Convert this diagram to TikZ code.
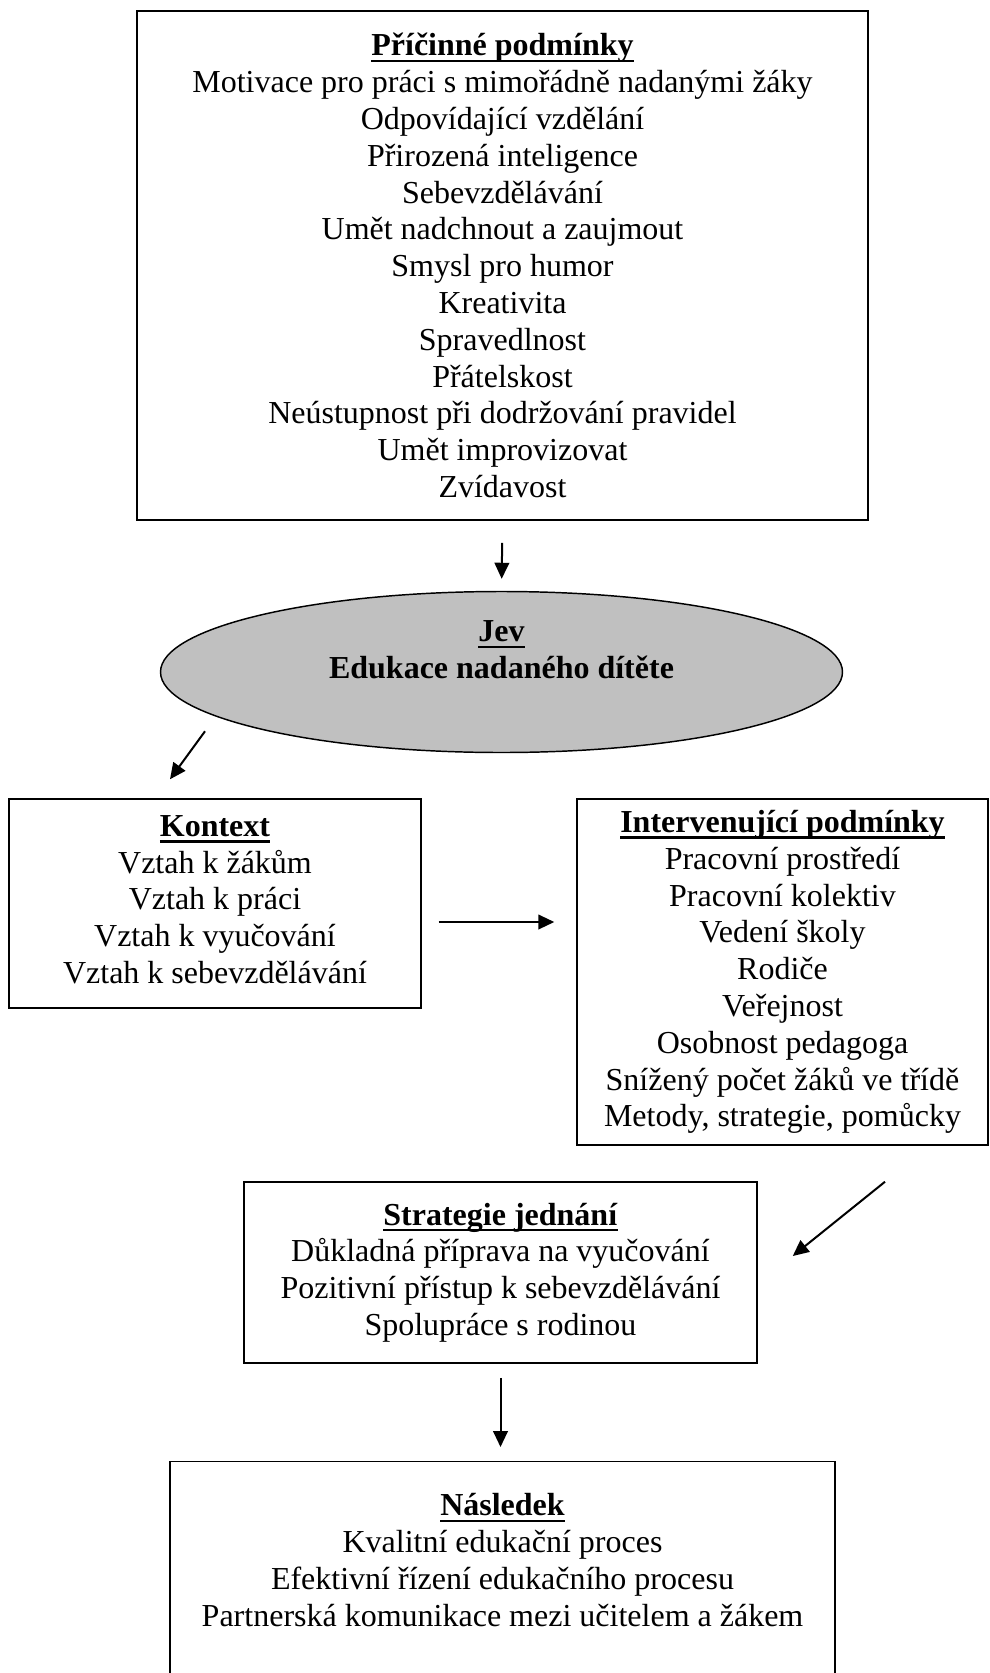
\documentclass[tikz,border=0pt]{standalone}
\usepackage{fontspec}
\setmainfont{Liberation Serif}
\usepackage{tikz}
\usetikzlibrary{arrows.meta,positioning,shapes.geometric,calc}
\definecolor{jevgray}{RGB}{192,192,192}
% bold heading with a heavy underline
\newcommand{\hd}[1]{\setbox0\hbox{\textbf{#1}}\leavevmode\rlap{\rule[-4.8pt]{\wd0}{1.8pt}}\box0}

\begin{document}
\begin{tikzpicture}[x=0.75pt, y=-0.75pt,
  every node/.style={font=\fontsize{24}{27.6}\selectfont},
  box/.style={draw, line width=1.1pt, align=center, inner sep=0pt},
  arr/.style={-{Triangle[length=12pt,width=11pt]}, line width=1.5pt}]
  \useasboundingbox (0,0) rectangle (989,1673);
  % ---- top: causes ----
  \node[box, minimum width=548pt, minimum height=382pt] (pric) at (502.5,265.5)
    {\hd{Příčinné podmínky}\\
     Motivace pro práci s mimořádně nadanými žáky\\
     Odpovídající vzdělání\\
     Přirozená inteligence\\
     Sebevzdělávání\\
     Umět nadchnout a zaujmout\\
     Smysl pro humor\\
     Kreativita\\
     Spravedlnost\\
     Přátelskost\\
     Neústupnost při dodržování pravidel\\
     Umět improvizovat\\
     Zvídavost};
  % ---- phenomenon (ellipse) ----
  \node[ellipse, draw, line width=1.1pt, fill=jevgray, inner sep=0pt, align=center,
        minimum width=511.5pt, minimum height=120.75pt] (jev) at (501.5,672)
    {\hd{Jev}\\\textbf{Edukace nadaného dítěte}\\[6pt]\mbox{}};
  % ---- context and intervening conditions ----
  \node[box, minimum width=309pt, minimum height=156.75pt] (kontext) at (215,903.5)
    {\hd{Kontext}\\
     Vztah k žákům\\
     Vztah k práci\\
     Vztah k vyučování\\
     Vztah k sebevzdělávání\\[-21.5pt]\mbox{}};
  \node[box, minimum width=308.25pt, minimum height=259.5pt] (interv) at (782.5,972)
    {\hd{Intervenující podmínky}\\
     Pracovní prostředí\\
     Pracovní kolektiv\\
     Vedení školy\\
     Rodiče\\
     Veřejnost\\
     Osobnost pedagoga\\
     Snížený počet žáků ve třídě\\
     Metody, strategie, pomůcky};
  % ---- strategies ----
  \node[box, minimum width=384.75pt, minimum height=135.75pt] (strat) at (500.5,1272.5)
    {\hd{Strategie jednání}\\
     Důkladná příprava na vyučování\\
     Pozitivní přístup k sebevzdělávání\\
     Spolupráce s rodinou};
  % ---- consequence (box runs past the bottom edge) ----
  \node[box, anchor=north, minimum width=498.75pt, minimum height=225pt] (nasl) at (502.5,1461) {};
  \node[align=center, inner sep=0pt] (nasltext) at (502.5,1560)
    {\hd{Následek}\\
     Kvalitní edukační proces\\
     Efektivní řízení edukačního procesu\\
     Partnerská komunikace mezi učitelem a žákem};
  % ---- arrows ----
  \draw[arr, shorten <=16.5pt, shorten >=9pt] (pric.south) -- (jev.north);
  \draw[arr] ($(kontext.north)+(-10,-67)$) -- ($(kontext.north)+(-45,-19)$);
  \draw[arr] ($(kontext.east)+(17,18.5)$) -- ($(interv.west)+(-22,-50)$);
  \draw[arr] ($(interv.south)+(102.5,36)$) -- ($(strat.east)+(35,-16.5)$);
  \draw[arr, shorten <=10.5pt, shorten >=10.5pt] (strat.south) -- (strat.south |- nasl.north);
\end{tikzpicture}
\end{document}
